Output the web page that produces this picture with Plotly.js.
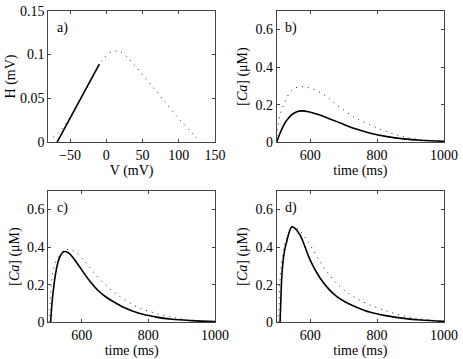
<!DOCTYPE html>
<html>
<head>
<meta charset="utf-8">
<script src="https://cdn.plot.ly/plotly-3.0.1.min.js"></script>
<style>
  body { margin: 0; padding: 0; background: #fff; }
  #chart { width: 463px; height: 359px; }
</style>
</head>
<body>
<div id="chart"></div>
<script>
// panel a: H vs V
const aSolidV = [-68, -9.6];
const aSolidH = [0, 0.089];
const aDotV = [-73, -65, -55, -45, -35, -25, -15, -5, 3, 12, 20, 30, 40, 50, 60, 70, 80, 90, 100, 110, 120, 127];
const aDotH = [0.006, 0.012, 0.022, 0.036, 0.05, 0.065, 0.08, 0.094, 0.101, 0.104, 0.103, 0.096, 0.087, 0.077, 0.067, 0.057, 0.047, 0.037, 0.027, 0.018, 0.009, 0.003];

// panel b
const bSolidT = [500, 505, 510, 520, 530, 545, 560, 575, 595, 620, 650, 680, 710, 740, 780, 830, 880, 930, 1000];
const bSolidCa = [0, 0.026, 0.048, 0.088, 0.117, 0.147, 0.163, 0.167, 0.163, 0.15, 0.131, 0.11, 0.088, 0.069, 0.048, 0.03, 0.018, 0.011, 0.005];
const bDotT = [500, 503, 510, 525, 540, 557, 575, 600, 630, 655, 680, 705, 730, 780, 830, 880, 930, 1000];
const bDotCa = [0, 0.07, 0.145, 0.216, 0.266, 0.29, 0.296, 0.288, 0.265, 0.235, 0.198, 0.165, 0.136, 0.092, 0.056, 0.03, 0.014, 0.005];

// panel c
const cSolidT = [507, 512, 517, 522, 527, 535, 547, 560, 572, 590, 622, 650, 672, 700, 722, 772, 820, 871, 930, 1000];
const cSolidCa = [0, 0.12, 0.198, 0.26, 0.305, 0.35, 0.376, 0.37, 0.349, 0.305, 0.225, 0.168, 0.136, 0.105, 0.083, 0.048, 0.029, 0.016, 0.009, 0.004];
const cDotT = [503, 506, 512, 520, 527, 540, 562, 580, 602, 625, 652, 690, 722, 772, 822, 871, 921, 1000];
const cDotCa = [0, 0.12, 0.25, 0.31, 0.34, 0.37, 0.388, 0.375, 0.34, 0.29, 0.234, 0.17, 0.128, 0.078, 0.048, 0.027, 0.012, 0.005];

// panel d
const dSolidT = [510, 513, 515, 520, 525, 530, 537, 545, 555, 570, 585, 600, 630, 655, 680, 705, 730, 780, 830, 880, 930, 1000];
const dSolidCa = [0, 0.15, 0.234, 0.34, 0.395, 0.43, 0.478, 0.508, 0.5, 0.464, 0.4, 0.331, 0.234, 0.178, 0.136, 0.108, 0.087, 0.053, 0.034, 0.021, 0.012, 0.005];
const dDotT = [505, 508, 512, 518, 525, 535, 550, 565, 580, 595, 609, 624, 639, 659, 679, 704, 729, 779, 829, 878, 928, 1000];
const dDotCa = [0, 0.15, 0.27, 0.36, 0.42, 0.47, 0.508, 0.495, 0.464, 0.425, 0.385, 0.34, 0.296, 0.25, 0.207, 0.168, 0.136, 0.092, 0.06, 0.034, 0.018, 0.006];

const panelLabels = ['a)', 'b)', 'c)', 'd)'];

const font = { family: 'Liberation Serif, Times New Roman, serif', size: 14, color: '#000' };

function solid(x, y, ax) {
    return { x: x, y: y, xaxis: 'x' + ax, yaxis: 'y' + ax, mode: 'lines',
             line: { color: '#000', width: 1.6, shape: 'spline' }, hoverinfo: 'skip' };
}
function dotted(x, y, ax) {
    return { x: x, y: y, xaxis: 'x' + ax, yaxis: 'y' + ax, mode: 'lines',
             line: { color: '#222', width: 1, dash: '1px,5px', shape: 'spline' }, hoverinfo: 'skip' };
}

const traces = [
    dotted(aDotV, aDotH, ''), solid(aSolidV, aSolidH, ''),
    dotted(bDotT, bDotCa, '2'), solid(bSolidT, bSolidCa, '2'),
    dotted(cDotT, cDotCa, '3'), solid(cSolidT, cSolidCa, '3'),
    dotted(dDotT, dDotCa, '4'), solid(dSolidT, dSolidCa, '4')
];

const W = 463, H = 359;
const colL = [48.3 / W, 215 / W];
const colR = [276.7 / W, 444 / W];
const rowT = [1 - 142.3 / H, 1 - 10.7 / H];
const rowB = [1 - 322.3 / H, 1 - 190.7 / H];

function axisBase(extra) {
    return Object.assign({
        showline: true, mirror: 'ticks', ticks: 'inside', ticklen: 3,
        linecolor: '#444', tickcolor: '#444', linewidth: 1,
        showgrid: false, zeroline: false, tickfont: font, fixedrange: true
    }, extra);
}

const caTitle = { text: '[<i>Ca</i>] (μM)', font: font, standoff: 4 };
const timeTitle = { text: 'time (ms)', font: font, standoff: 2 };

const layout = {
    width: W, height: H,
    margin: { l: 0, r: 0, t: 0, b: 0 },
    paper_bgcolor: '#fff', plot_bgcolor: '#fff',
    showlegend: false, font: font,
    xaxis: axisBase({ domain: colL, anchor: 'y', range: [-80, 150], tickvals: [-50, 0, 50, 100, 150],
                      title: { text: 'V (mV)', font: font, standoff: 2 } }),
    yaxis: axisBase({ domain: rowT, anchor: 'x', range: [0, 0.15], tickvals: [0, 0.05, 0.1, 0.15],
                      title: { text: 'H (mV)', font: font, standoff: 1 } }),
    xaxis2: axisBase({ domain: colR, anchor: 'y2', range: [500, 1000], tickvals: [600, 800, 1000], title: timeTitle }),
    yaxis2: axisBase({ domain: rowT, anchor: 'x2', range: [0, 0.7], tickvals: [0, 0.2, 0.4, 0.6], title: caTitle }),
    xaxis3: axisBase({ domain: colL, anchor: 'y3', range: [500, 1000], tickvals: [600, 800, 1000], title: timeTitle }),
    yaxis3: axisBase({ domain: rowB, anchor: 'x3', range: [0, 0.7], tickvals: [0, 0.2, 0.4, 0.6], title: caTitle }),
    xaxis4: axisBase({ domain: colR, anchor: 'y4', range: [500, 1000], tickvals: [600, 800, 1000], title: timeTitle }),
    yaxis4: axisBase({ domain: rowB, anchor: 'x4', range: [0, 0.7], tickvals: [0, 0.2, 0.4, 0.6], title: caTitle }),
    annotations: panelLabels.map((t, i) => ({
        text: t, showarrow: false, font: font,
        xref: (i === 0 ? 'x' : 'x' + (i + 1)) + ' domain',
        yref: (i === 0 ? 'y' : 'y' + (i + 1)) + ' domain',
        x: 0.04, y: 0.865, xanchor: 'left', yanchor: 'middle'
    }))
};

Plotly.newPlot('chart', traces, layout, { displayModeBar: false, staticPlot: true });
</script>
</body>
</html>
